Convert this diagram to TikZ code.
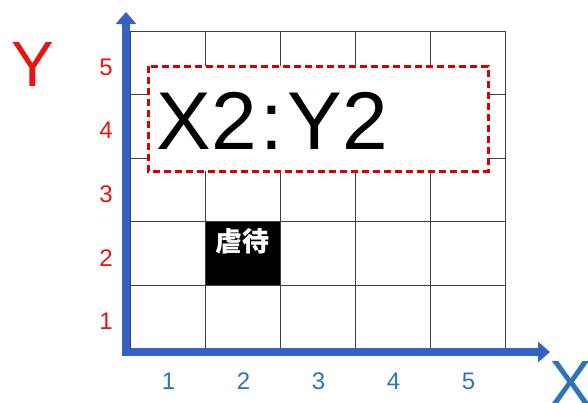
\documentclass[tikz,border=0pt]{standalone}
\usepackage{fontspec}
\setmainfont{Liberation Sans}
\newfontfamily\cjk{Noto Sans CJK JP}
\usepackage{xcolor}
\usetikzlibrary{arrows.meta,positioning,calc}

\definecolor{axisblue}{RGB}{52,98,196}
\definecolor{labelblue}{RGB}{46,117,182}
\definecolor{labelred}{RGB}{230,20,20}

\begin{document}
\begin{tikzpicture}[
    x=1pt, y=-1pt,
    gridline/.style={draw=black!75, line width=0.8pt},
    axis/.style={draw=axisblue, line width=7.5pt, line join=miter, {Triangle[width=20pt,length=12pt]}-{Triangle[width=20pt,length=12pt]}},
    ynum/.style={text=labelred, font=\fontsize{24}{24}\selectfont},
    xnum/.style={text=labelblue, font=\fontsize{24}{24}\selectfont},
    bigletter/.style={font=\fontsize{64}{64}\selectfont},
    focusbox/.style={draw=red!85!black, fill=white, dashed, dash pattern=on 7pt off 4pt, line width=3pt},
    marked/.style={fill=black}
]
\useasboundingbox (0,0) rectangle (588,402);

% Grid 5 x 5
\fill[marked] (205,221.8) rectangle (280,285.4);
\foreach \i in {0,...,5} {
    \draw[gridline] ({130+75*\i},31) -- ({130+75*\i},349);
    \draw[gridline] (130,{31+63.6*\i}) -- (505,{31+63.6*\i});
}

% Cell label
\node[text=white, font=\cjk\bfseries\fontsize{27}{27}\selectfont] (cell) at (242.5,241) {虐待};

% Focus box
\draw[focusbox] (148,66) rectangle (488,171);
\node[font=\fontsize{82}{82}\selectfont] (coord) at (272,121) {X2\kern4pt:\kern4pt Y2};

% Axes
\coordinate (origin) at (126,352);
\coordinate (ytip) at (126,12);
\coordinate (xtip) at (550,352);
\draw[axis] (ytip) -- (origin) -- (xtip);

% Axis numbers
\foreach \n in {1,...,5} {
    \node[ynum] (y\n) at (106,{352-63.6*\n+33}) {\n};
    \node[xnum] (x\n) at ({130+75*\n-37.5+1},381) {\n};
}

% Axis names
\node[bigletter, text=labelred] (ylabel) at (33,64) {Y};
\node[bigletter, text=labelblue] (xlabel) at (571,383) {X};

\end{tikzpicture}
\end{document}
